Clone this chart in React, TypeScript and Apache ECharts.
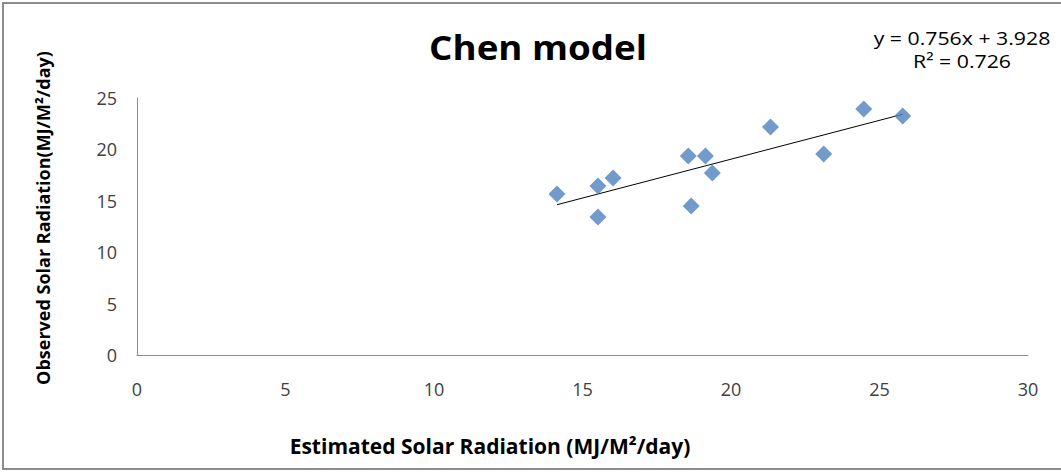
import React, { useEffect, useRef } from "react";
import * as echarts from "echarts";

const estimated = [14.14, 15.52, 15.52, 16.03, 18.56, 18.66, 19.14, 19.37, 21.33, 23.12, 24.47, 25.78];
const observed = [15.66, 16.44, 13.42, 17.22, 19.36, 14.49, 19.36, 17.7, 22.18, 19.55, 23.93, 23.25];
const slope = 0.756;
const intercept = 3.928;
const rSquared = 0.726;
const xTicks = { min: 0, max: 30, interval: 5 };
const yTicks = { min: 0, max: 25, interval: 5 };

const FONT = "'Open Sans', 'Liberation Sans', sans-serif";

export default function App() {
  const ref = useRef<HTMLDivElement>(null);
  useEffect(() => {
    if (!ref.current) return;
    const chart = echarts.init(ref.current, undefined, { renderer: "svg" });
    const points = estimated.map((x, i) => [x, observed[i]]);
    const xMin = Math.min(...estimated);
    const xMax = Math.max(...estimated);
    const trend = [
      [xMin, slope * xMin + intercept],
      [xMax, slope * xMax + intercept],
    ];
    chart.setOption({
      animation: false,
      backgroundColor: "#ffffff",
      grid: { left: 137, right: 33, top: 98, bottom: 118, containLabel: false },
      xAxis: {
        type: "value",
        min: xTicks.min,
        max: xTicks.max,
        interval: xTicks.interval,
        axisLine: { show: true, lineStyle: { color: "#8c8c8c", width: 1 } },
        axisTick: { show: false },
        splitLine: { show: false },
        axisLabel: { color: "#404040", fontSize: 18, fontFamily: FONT, margin: 25 },
      },
      yAxis: {
        type: "value",
        min: yTicks.min,
        max: yTicks.max,
        interval: yTicks.interval,
        axisLine: { show: true, lineStyle: { color: "#8c8c8c", width: 1 } },
        axisTick: { show: false },
        splitLine: { show: false },
        axisLabel: { color: "#404040", fontSize: 18, fontFamily: FONT, margin: 20 },
      },
      series: [
        {
          type: "scatter",
          data: points,
          symbol: "diamond",
          symbolSize: 17,
          itemStyle: { color: "#4F81BD" },
          z: 3,
        },
        {
          type: "line",
          data: trend,
          symbol: "none",
          lineStyle: { color: "#000000", width: 1 },
          z: 2,
        },
      ],
      graphic: [
        {
          type: "rect",
          shape: { x: 3, y: 3, width: 1060, height: 466 },
          style: { fill: "none", stroke: "#8c8c8c", lineWidth: 2 },
          silent: true,
        },
        {
          type: "text",
          x: 538,
          y: 47,
          scaleX: 1.08,
          style: {
            text: "Chen model",
            font: `bold 34px ${FONT}`,
            fill: "#000000",
            align: "center",
            verticalAlign: "middle",
          },
        },
        {
          type: "text",
          x: 962,
          y: 37,
          scaleX: 1.12,
          style: {
            text: `y = ${slope}x + ${intercept}`,
            font: `19px ${FONT}`,
            fill: "#000000",
            align: "center",
            verticalAlign: "middle",
          },
        },
        {
          type: "text",
          x: 962,
          y: 60,
          scaleX: 1.12,
          style: {
            text: `R² = ${rSquared}`,
            font: `19px ${FONT}`,
            fill: "#000000",
            align: "center",
            verticalAlign: "middle",
          },
        },
        {
          type: "text",
          x: 490,
          y: 446,
          style: {
            text: "Estimated Solar Radiation (MJ/M²/day)",
            font: `bold 21px ${FONT}`,
            fill: "#000000",
            align: "center",
            verticalAlign: "middle",
          },
        },
        {
          type: "text",
          x: 43,
          y: 218,
          rotation: Math.PI / 2,
          style: {
            text: "Observed Solar Radiation(MJ/M²/day)",
            font: `bold 18px ${FONT}`,
            fill: "#000000",
            align: "center",
            verticalAlign: "middle",
          },
        },
      ],
    });
    return () => chart.dispose();
  }, []);
  return <div ref={ref} style={{ width: 1061, height: 473, position: "absolute", left: 0, top: 0 }} />;
}
